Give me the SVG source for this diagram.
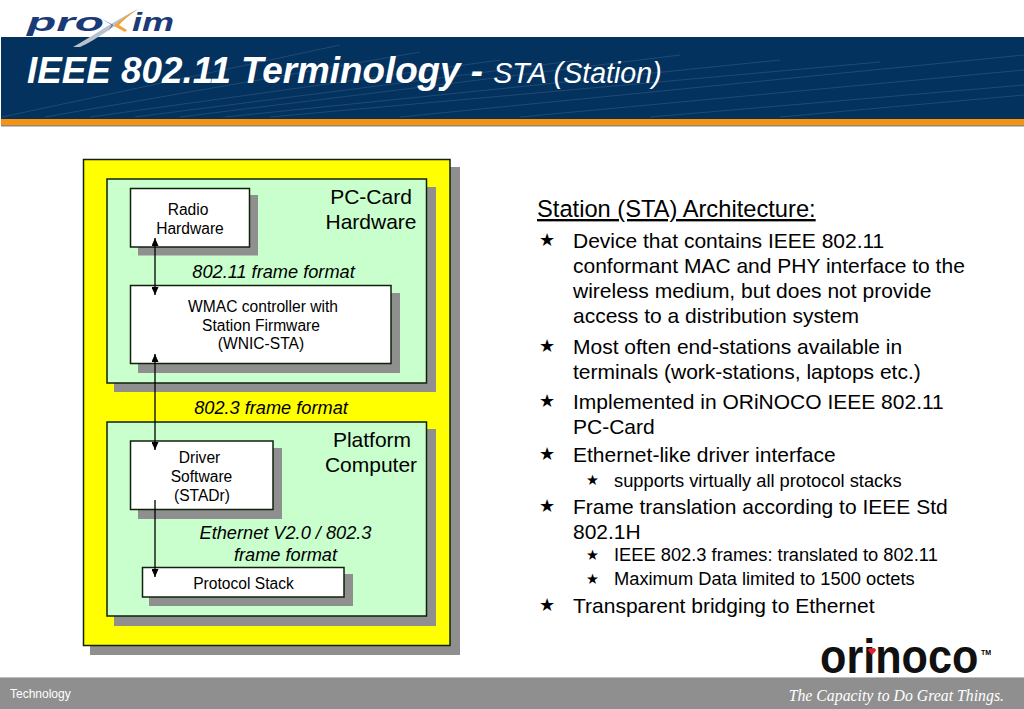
<svg xmlns="http://www.w3.org/2000/svg" width="1024" height="709" viewBox="0 0 1024 709">
<style>
text{font-family:"Liberation Sans",Arial,sans-serif;fill:#000}
.s{fill:#8f8f8f}
.y{fill:#ffff00;stroke:#10200c;stroke-width:1.5}
.g{fill:#c8ffcc;stroke:#10200c;stroke-width:1.5}
.w{fill:#fff;stroke:#10200c;stroke-width:1.5}
.sm{font-size:15.6px;text-anchor:middle}
.md{font-size:21px;text-anchor:middle}
.it{font-size:18.2px;font-style:italic;text-anchor:middle}
.b1{font-size:21px}
.b2{font-size:18.3px}
.st{font-family:"DejaVu Sans",sans-serif}
.sw{fill:none;stroke:#4a6a8f;stroke-width:.6;opacity:.7}
.c{fill:none;stroke:#000;stroke-width:1.3}
</style>
<defs>
<marker id="a" viewBox="0 0 8 7" refX="8" refY="3.5" markerWidth="8" markerHeight="7" markerUnits="userSpaceOnUse" orient="auto-start-reverse"><path d="M0 0L8 3.5L0 7Z" fill="#000"/></marker>
</defs>
<rect width="1024" height="709" fill="#fff"/>
<g id="header">
<rect x="1" y="37" width="1023" height="82" fill="#03325f"/>
<path class="sw" d="M2 117L340 45M45 117L420 52M90 117L500 60M135 117L580 60M180 117L680 55M225 117L780 60M270 117L880 62M400 117L1024 55M520 117L1024 70M650 117L1024 85M780 117L1024 95"/>
<rect x="1" y="119" width="1023" height="6" fill="#f7930f"/>
<rect x="1" y="125" width="1023" height="1.5" fill="#8a8a80"/>
<text x="27" y="83" font-size="36.800" font-weight="bold" font-style="italic" style="fill:#fff">IEEE 802.11 Terminology - <tspan font-size="28.600" font-weight="normal">STA (Station)</tspan></text>
</g>
<g id="logo-proxim">
<text x="27" y="31" font-size="25" font-weight="bold" font-style="italic" textLength="77" lengthAdjust="spacingAndGlyphs" style="fill:#1a3a78">pro</text>
<text x="132" y="31" font-size="25" font-weight="bold" font-style="italic" textLength="42" lengthAdjust="spacingAndGlyphs" style="fill:#1a3a78">im</text>
<path d="M73 47C90 38 112 22 138 9C118 24 96 40 80 47Z" fill="#b8c2cc"/>
<path d="M138 9C128 14 120 20 114 26L125 32L127 30L119 25C124 20 130 14 138 9Z" fill="#f2a33a"/>
<path d="M100 18L113 25L108 31L112 25Z" fill="#1a3a78"/>
</g>
<g id="box-outer"><rect class="s" x="90" y="167" width="370" height="488"/><rect class="y" x="83.500" y="159.500" width="366.500" height="486"/></g>
<g id="box-pc-card">
<rect class="s" x="114" y="187" width="322" height="205"/><rect class="g" x="107" y="179" width="319.500" height="204"/>
<text class="md" x="371" y="204">PC-Card</text><text class="md" x="371" y="229">Hardware</text>
</g>
<g id="node-radio">
<rect class="s" x="138" y="195" width="120" height="60.500"/><rect class="w" x="130.500" y="188.500" width="119" height="58.500"/>
<text class="sm" x="188" y="214.500">Radio</text><text class="sm" x="190" y="233.500">Hardware</text>
</g>
<text class="it" x="273.500" y="278">802.11 frame format</text>
<g id="node-wmac">
<rect class="s" x="138" y="293" width="262" height="80"/><rect class="w" x="130.500" y="285.500" width="260.500" height="78"/>
<text class="sm" x="263" y="312">WMAC controller with</text><text class="sm" x="261" y="331">Station Firmware</text><text class="sm" x="261" y="349">(WNIC-STA)</text>
</g>
<text class="it" x="271" y="413.500">802.3 frame format</text>
<g id="box-platform">
<rect class="s" x="114" y="429" width="322" height="197"/><rect class="g" x="107" y="422" width="319.500" height="194"/>
<text class="md" x="372" y="447">Platform</text><text class="md" x="371" y="472">Computer</text>
</g>
<g id="node-driver">
<rect class="s" x="138" y="448" width="144" height="71"/><rect class="w" x="130.500" y="441" width="142.500" height="68.500"/>
<text class="sm" x="199.500" y="462.500">Driver</text><text class="sm" x="201.500" y="482">Software</text><text class="sm" x="202" y="500.500">(STADr)</text>
</g>
<text class="it" x="285.500" y="539">Ethernet V2.0 / 802.3</text><text class="it" x="285.500" y="561">frame format</text>
<g id="node-protocol">
<rect class="s" x="149" y="574" width="204" height="32"/><rect class="w" x="142.500" y="567.500" width="201.500" height="29.500"/>
<text class="sm" x="243.500" y="588.500">Protocol Stack</text>
</g>
<g id="connectors">
<path class="c" d="M155 238V295" marker-start="url(#a)" marker-end="url(#a)"/>
<path class="c" d="M155 354V450" marker-start="url(#a)" marker-end="url(#a)"/>
<path class="c" d="M155 500V577" marker-end="url(#a)"/>
</g>
<g id="text-body">
<text x="537" y="217" font-size="23.700" text-decoration="underline">Station (STA) Architecture:</text>
<g class="b1">
<text class="st" x="539" y="246" font-size="18">★</text>
<text x="573" y="248">Device that contains IEEE 802.11</text>
<text x="573" y="273">conformant MAC and PHY interface to the</text>
<text x="573" y="298">wireless medium, but does not provide</text>
<text x="573" y="323">access to a distribution system</text>
<text class="st" x="539" y="352" font-size="18">★</text>
<text x="573" y="354">Most often end-stations available in</text>
<text x="573" y="379">terminals (work-stations, laptops etc.)</text>
<text class="st" x="539" y="407" font-size="18">★</text>
<text x="573" y="409">Implemented in ORiNOCO IEEE 802.11</text>
<text x="573" y="434">PC-Card</text>
<text class="st" x="539" y="460" font-size="18">★</text>
<text x="573" y="462">Ethernet-like driver interface</text>
<text class="st" x="539" y="512" font-size="18">★</text>
<text x="573" y="514">Frame translation according to IEEE Std</text>
<text x="573" y="539">802.1H</text>
<text class="st" x="539" y="611" font-size="18">★</text>
<text x="573" y="613">Transparent bridging to Ethernet</text>
</g>
<g class="b2">
<text class="st" x="586" y="485" font-size="14.500">★</text>
<text x="614" y="487">supports virtually all protocol stacks</text>
<text class="st" x="586" y="560" font-size="14.500">★</text>
<text x="614" y="561">IEEE 802.3 frames: translated to 802.11</text>
<text class="st" x="586" y="584" font-size="14.500">★</text>
<text x="614" y="585">Maximum Data limited to 1500 octets</text>
</g>
</g>
<g id="logo-orinoco">
<text transform="translate(820 673) scale(.9 1)" font-size="48" font-weight="bold" style="fill:#111">orinoco</text>
<path d="M868 650.500a2.500 2.500 0 0 1 4 -2a2.500 2.500 0 0 1 4 2l-4 4.500Z" fill="#e02030"/>
<text x="981" y="655" font-size="7" font-weight="bold">TM</text>
</g>
<g id="footer">
<rect x="0" y="678" width="1024" height="31" fill="#8f8f8f"/>
<rect x="0" y="677" width="1024" height="1" fill="#bdbdbd"/>
<text x="10" y="698" font-size="12" style="fill:#fff">Technology</text>
<text x="1004" y="701" font-size="15.800" font-style="italic" text-anchor="end" style="font-family:'Liberation Serif',serif;fill:#fff">The Capacity to Do Great Things.</text>
</g>
</svg>
